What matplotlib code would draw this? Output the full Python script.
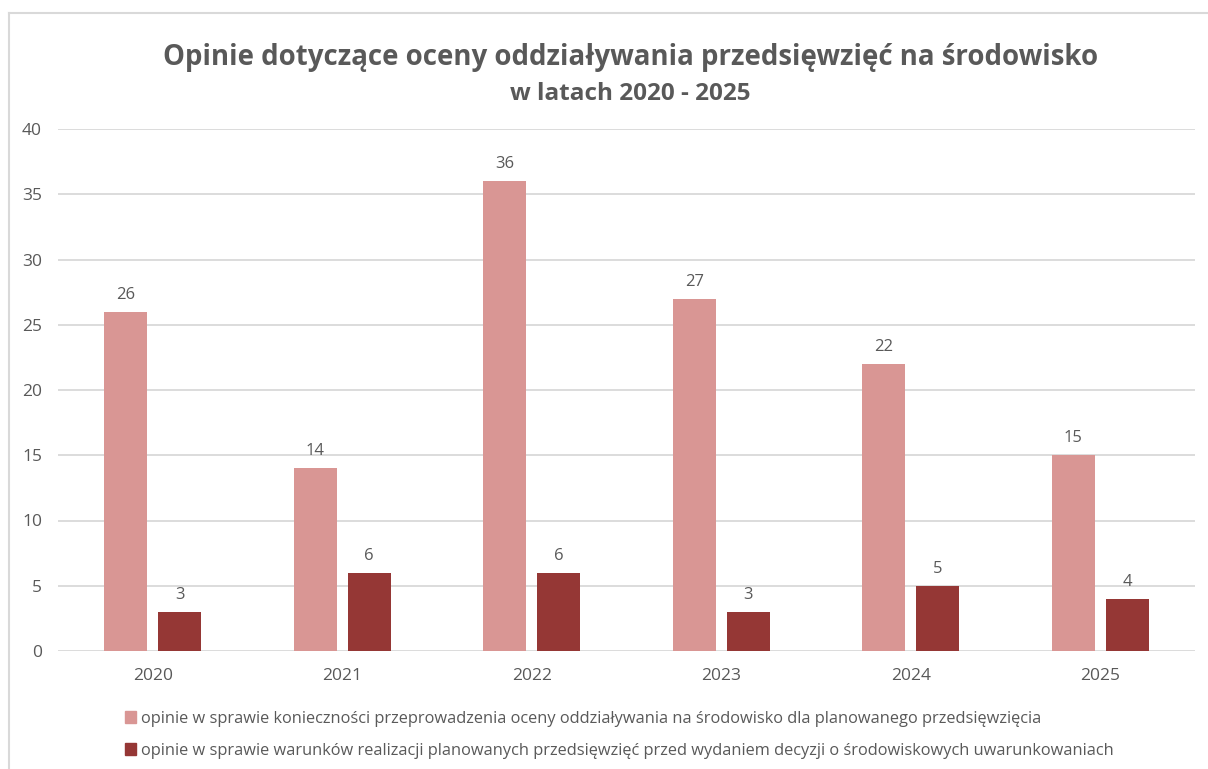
import numpy as np
import matplotlib.pyplot as plt
from matplotlib.patches import Patch
from matplotlib.lines import Line2D

years = ["2020", "2021", "2022", "2023", "2024", "2025"]
koniecznosc = [26, 14, 36, 27, 22, 15]
warunki = [3, 6, 6, 3, 5, 4]
labels = [
    "opinie w sprawie konieczności przeprowadzenia oceny oddziaływania na środowisko dla planowanego przedsięwzięcia",
    "opinie w sprawie warunków realizacji planowanych przedsięwzięć przed wydaniem decyzji o środowiskowych uwarunkowaniach",
]

plt.rcParams["font.family"] = ["Open Sans", "DejaVu Sans"]
txt = "#595959"
c1 = "#D99694"
c2 = "#953735"

fig = plt.figure(figsize=(12.08, 7.69), dpi=100)
W, H = 1208, 769
ax = fig.add_axes([58 / W, 1 - 651 / H, (1195 - 58) / W, (651 - 129) / H])

x = np.arange(len(years))
w = 0.227
off = 0.1425
b1 = ax.bar(x - off, koniecznosc, w, color=c1, zorder=3)
b2 = ax.bar(x + off, warunki, w, color=c2, zorder=3)
for bars in (b1, b2):
    for r in bars:
        ax.annotate(str(int(r.get_height())), (r.get_x() + r.get_width() / 2, r.get_height()),
                    xytext=(0, 6.5), textcoords="offset points", ha="center", va="bottom",
                    fontsize=12, color=txt)

ax.set_xlim(-0.5, len(years) - 0.5)
ax.set_ylim(0, 40)
ax.set_yticks(range(0, 41, 5))
ax.set_xticks(x)
ax.set_xticklabels(years)
ax.tick_params(length=0, labelsize=12.5, labelcolor=txt)
ax.tick_params(axis="x", pad=12)
ax.tick_params(axis="y", pad=11.5)
ax.yaxis.grid(True, color="#D9D9D9", lw=1.3, zorder=0)
for s in ax.spines.values():
    s.set_visible(False)

fig.text(631 / W, 1 - 57 / H, "Opinie dotyczące oceny oddziaływania przedsięwzięć na środowisko",
         ha="center", va="center", fontsize=19.9, fontweight="bold", color=txt)
fig.text(630 / W, 1 - 94 / H, "w latach 2020 - 2025",
         ha="center", va="center", fontsize=17.5, fontweight="bold", color=txt)

# chart frame (left and top edges visible)
fig.add_artist(Line2D([9 / W, 9 / W], [0, 1 - 13 / H], color="#D9D9D9", lw=1.5))
fig.add_artist(Line2D([9 / W, 1], [1 - 13 / H, 1 - 13 / H], color="#D9D9D9", lw=1.5))

handles = [Patch(color=c1), Patch(color=c2)]
fig.legend(handles, labels, loc="upper left", bbox_to_anchor=(118 / W, 1 - 704 / H),
           frameon=False, fontsize=11.75, labelcolor=txt, handlelength=0.7, handleheight=0.7,
           handletextpad=0.3, labelspacing=1.0, borderaxespad=0)

fig.savefig("out.png", dpi=100)
